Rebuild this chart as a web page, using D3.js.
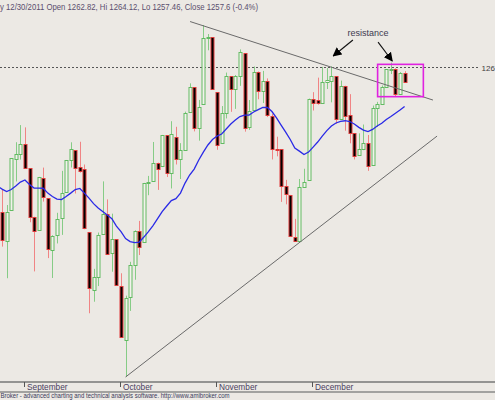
<!DOCTYPE html>
<html><head><meta charset="utf-8">
<script src="https://cdn.jsdelivr.net/npm/d3@7"></script>
<style>html,body{margin:0;padding:0;background:#ece9e4;}svg{display:block;}</style>
</head><body>
<svg id="c" width="495" height="400"></svg>
<script>
// ---- data (S&P 500 daily, Aug 24 – Dec 30 2011) ----
const dates = ["2011-08-24","2011-08-25","2011-08-26","2011-08-29","2011-08-30","2011-08-31",
"2011-09-01","2011-09-02","2011-09-06","2011-09-07","2011-09-08","2011-09-09","2011-09-12","2011-09-13","2011-09-14","2011-09-15","2011-09-16","2011-09-19","2011-09-20","2011-09-21","2011-09-22","2011-09-23","2011-09-26","2011-09-27","2011-09-28","2011-09-29","2011-09-30",
"2011-10-03","2011-10-04","2011-10-05","2011-10-06","2011-10-07","2011-10-10","2011-10-11","2011-10-12","2011-10-13","2011-10-14","2011-10-17","2011-10-18","2011-10-19","2011-10-20","2011-10-21","2011-10-24","2011-10-25","2011-10-26","2011-10-27","2011-10-28","2011-10-31",
"2011-11-01","2011-11-02","2011-11-03","2011-11-04","2011-11-07","2011-11-08","2011-11-09","2011-11-10","2011-11-11","2011-11-14","2011-11-15","2011-11-16","2011-11-17","2011-11-18","2011-11-21","2011-11-22","2011-11-23","2011-11-25","2011-11-28","2011-11-29","2011-11-30",
"2011-12-01","2011-12-02","2011-12-05","2011-12-06","2011-12-07","2011-12-08","2011-12-09","2011-12-12","2011-12-13","2011-12-14","2011-12-15","2011-12-16","2011-12-19","2011-12-20","2011-12-21","2011-12-22","2011-12-23","2011-12-27","2011-12-28","2011-12-29","2011-12-30"];
const openP = [1162.16,1176.69,1158.85,1177.91,1209.76,1213.00,
1219.12,1203.90,1173.97,1165.85,1197.98,1185.37,1153.50,1162.59,1173.32,1189.44,1209.21,1214.99,1204.50,1203.63,1164.55,1128.82,1136.91,1163.32,1175.39,1151.74,1159.93,
1131.21,1097.42,1124.03,1144.11,1165.03,1158.15,1194.60,1196.19,1206.96,1205.65,1224.47,1200.75,1223.46,1209.92,1215.39,1238.72,1254.19,1229.17,1243.97,1284.39,1284.96,
1251.00,1219.62,1238.25,1260.82,1253.21,1261.12,1275.18,1229.59,1240.12,1263.85,1251.70,1257.81,1236.56,1216.19,1215.62,1192.98,1187.48,1161.41,1158.67,1192.56,1196.72,
1246.91,1246.03,1244.33,1257.19,1258.14,1260.87,1234.48,1255.05,1236.83,1225.73,1212.12,1216.09,1219.74,1205.72,1241.25,1243.72,1254.00,1265.02,1265.38,1249.75,1262.82];
const highP = [1178.56,1190.68,1181.23,1210.28,1220.10,1230.71,
1229.29,1203.90,1173.97,1198.62,1204.40,1185.37,1162.52,1176.41,1202.38,1209.11,1220.06,1214.99,1220.39,1206.30,1164.55,1141.72,1164.19,1195.86,1184.71,1175.87,1159.93,
1138.99,1125.12,1146.07,1165.55,1171.40,1194.91,1199.24,1220.25,1207.46,1224.61,1224.47,1233.10,1229.64,1219.53,1239.03,1256.55,1254.19,1246.28,1292.66,1287.08,1284.96,
1251.00,1242.48,1263.21,1260.82,1261.70,1277.55,1275.18,1246.22,1266.98,1263.85,1264.25,1259.61,1237.73,1223.51,1215.62,1196.81,1187.48,1172.66,1197.35,1203.67,1247.11,
1251.09,1260.08,1266.73,1266.03,1267.06,1260.87,1258.25,1255.05,1249.86,1225.73,1225.60,1231.04,1224.57,1242.82,1245.09,1255.22,1265.42,1269.37,1265.85,1263.54,1264.12];
const lowP = [1156.30,1155.47,1135.91,1177.91,1195.77,1209.35,
1203.85,1170.56,1140.13,1165.85,1183.34,1148.37,1136.07,1157.44,1162.73,1189.44,1204.46,1188.36,1201.29,1166.21,1114.22,1121.36,1131.07,1163.32,1150.40,1139.93,1131.34,
1098.92,1074.77,1115.68,1134.95,1150.26,1158.15,1187.30,1196.19,1190.58,1205.65,1198.55,1191.48,1206.31,1197.34,1215.39,1238.72,1226.79,1221.06,1243.97,1277.01,1253.16,
1215.42,1219.62,1234.81,1238.92,1240.75,1254.99,1226.64,1227.70,1240.12,1246.68,1244.34,1235.67,1209.43,1211.36,1183.16,1181.65,1161.79,1158.66,1158.67,1191.80,1196.72,
1239.73,1243.35,1244.33,1253.03,1244.80,1231.47,1234.48,1227.25,1219.43,1209.47,1212.12,1215.20,1202.37,1205.72,1229.51,1243.72,1254.00,1262.30,1248.64,1249.75,1257.46];
const closeP = [1177.60,1159.27,1176.80,1210.08,1212.92,1218.89,
1204.42,1173.97,1165.24,1198.62,1185.90,1154.23,1162.27,1172.87,1188.68,1209.11,1216.01,1204.09,1202.09,1166.76,1129.56,1136.43,1162.95,1175.38,1151.06,1160.40,1131.42,
1099.23,1123.95,1144.03,1164.97,1155.46,1194.89,1195.54,1207.25,1203.66,1224.58,1200.86,1225.38,1209.88,1215.39,1238.25,1254.19,1229.05,1242.00,1284.59,1285.09,1253.30,
1218.28,1237.90,1261.15,1253.23,1261.12,1275.92,1229.10,1239.69,1263.85,1251.78,1257.81,1236.91,1216.13,1215.65,1192.98,1188.04,1161.79,1158.67,1192.55,1195.19,1246.96,
1244.58,1244.28,1257.08,1258.47,1261.01,1234.35,1255.19,1236.47,1225.73,1211.82,1215.75,1219.66,1205.35,1241.30,1243.72,1254.00,1265.33,1265.43,1249.64,1263.02,1257.60];
// moving average (blue)
const maP = [1193.0,1191.1,1189.6,1190.8,1193.0,1195.4,1196.7,1193.9,1191.7,1191.7,1191.6,1188.6,1186.5,1184.9,1184.6,1186.5,1188.6,1190.8,1191.5,1188.6,
1185.5,1182.1,1179.4,1177.2,1175.0,1172.8,1168.2,1164.8,1160.5,1158.6,1157.9,1158.3,1161.4,1164.8,1168.5,1172.8,1177.2,1180.6,1184.0,1185.2,
1188.6,1194.8,1199.8,1203.5,1209.1,1214.0,1218.4,1221.8,1223.9,1225.2,1228.3,1231.4,1233.8,1236.0,1236.9,1236.9,1238.8,1240.3,1241.6,1241.6,
1239.1,1235.1,1230.7,1226.4,1221.8,1216.5,1214.6,1212.5,1214.0,1217.1,1220.2,1223.9,1227.3,1230.1,1232.0,1233.0,1233.4,1232.9,1231.4,1229.3,
1227.6,1226.7,1228.0,1230.1,1231.8,1234.2,1236.0,1238.0,1240.0,1242.2];
const monthLabels = ["September","October","November","December"];
const monthStartIdx = [6,27,48,69];
// annotations (bar index, price)
const trendDown = [[42.1,1294.8],[95.2,1246.2]];
const trendUp = [[28,1074.77],[96.1,1223.9]];
const resistanceLevel = 1266.7;
const resistanceLabel = "126";
const boxCorners = [[83.1,1268.3],[93.1,1248.3]];
const arrows = [[[77.7,1283.4],[73.4,1273.5]],[[83.2,1282.1],[86.3,1270.4]]];
const noteText = "resistance";
const notePos = [81,1285.8];
const headerPrefix = "y 12/30/2011";
const footerText = "Broker - advanced charting and technical analysis software. http://www.amibroker.com";

// ---- drawing ----
const svg = d3.select("#c");
const W = 495, H = 400;
const x = d3.scaleLinear().domain([27, 89]).range([121, 404.6]);
const y = d3.scaleLinear().domain([1074.77, 1292.66]).range([377, 25]);
const font = "'Liberation Sans', Arial, sans-serif";

svg.append("rect").attr("width", W).attr("height", H).attr("fill", "#ece9e4");

const defs = svg.append("defs");
defs.append("marker").attr("id","ah").attr("viewBox","0 0 10 10").attr("refX",9).attr("refY",5)
  .attr("markerWidth",9).attr("markerHeight",9).attr("markerUnits","userSpaceOnUse").attr("orient","auto")
  .append("path").attr("d","M0,0 L10,5 L0,10 z").attr("fill","#000");

// dashed resistance level
svg.append("line").attr("x1",0).attr("x2",479).attr("y1",Math.round(y(resistanceLevel))+0.5).attr("y2",Math.round(y(resistanceLevel))+0.5)
  .attr("stroke","#555").attr("stroke-dasharray","2,2").attr("stroke-width",1);
svg.append("text").attr("x",481.5).attr("y",y(resistanceLevel)+4).attr("font-family",font).attr("font-size",8)
  .attr("fill","#404040").text(resistanceLabel);

// candles
const bars = d3.range(dates.length).map(i => ({i, o:openP[i], h:highP[i], l:lowP[i], c:closeP[i]}));
const g = svg.append("g");
bars.forEach(d => {
  const cx = Math.round(x(d.i));
  const up = d.c >= d.o;
  g.append("line").attr("x1",cx+0.5).attr("x2",cx+0.5).attr("y1",y(d.h)).attr("y2",y(d.l))
    .attr("stroke", up ? "#86cc86" : "#f08484").attr("stroke-width",1);
  const top = Math.round(y(Math.max(d.o,d.c)));
  const bot = Math.round(y(Math.min(d.o,d.c)));
  g.append("rect").attr("x",cx-1).attr("y",top+0.5).attr("width",3).attr("height",Math.max(1,bot-top))
    .attr("fill", up ? "#f3f1ec" : "#000").attr("stroke", up ? "#62bb62" : "#e03a3a").attr("stroke-width",1);
});

// moving average
svg.append("path").datum(maP).attr("fill","none").attr("stroke","#2a2ae6").attr("stroke-width",1.3)
  .attr("d", d3.line().x((v,i)=>x(i)).y(v=>y(v)));

// trendlines
[trendDown, trendUp].forEach(t => {
  svg.append("line").attr("x1",x(t[0][0])).attr("y1",y(t[0][1])).attr("x2",x(t[1][0])).attr("y2",y(t[1][1]))
    .attr("stroke","#6a6a6a").attr("stroke-width",1);
});

// magenta box
svg.append("rect").attr("x",x(boxCorners[0][0])).attr("y",y(boxCorners[0][1]))
  .attr("width",x(boxCorners[1][0])-x(boxCorners[0][0])).attr("height",y(boxCorners[1][1])-y(boxCorners[0][1]))
  .attr("fill","none").attr("stroke","#e022e0").attr("stroke-width",1.6);

// arrows
arrows.forEach(a => {
  svg.append("line").attr("x1",x(a[0][0])).attr("y1",y(a[0][1])).attr("x2",x(a[1][0])).attr("y2",y(a[1][1]))
    .attr("stroke","#111").attr("stroke-width",1.1).attr("marker-end","url(#ah)");
});
svg.append("text").attr("x",x(notePos[0])).attr("y",y(notePos[1])).attr("text-anchor","middle")
  .attr("font-family",font).attr("font-size",9).attr("fill","#403a50").text(noteText);

// header
const last = dates.length-1;
const chg = ((closeP[last]-closeP[last-1])/closeP[last-1]*100).toFixed(1);
svg.append("text").attr("x",0).attr("y",9.5).attr("font-family",font).attr("font-size",8.6).attr("fill","#5a4e6e")
  .attr("textLength",258).attr("lengthAdjust","spacingAndGlyphs")
  .text(`${headerPrefix} Open ${openP[last]}, Hi ${highP[last]}, Lo ${lowP[last]}, Close ${+closeP[last].toFixed(2)} (${chg}%)`);

// x axis
svg.append("line").attr("x1",0).attr("x2",W).attr("y1",382).attr("y2",382).attr("stroke","#777").attr("stroke-width",1.6);
svg.append("line").attr("x1",0).attr("x2",W).attr("y1",392).attr("y2",392).attr("stroke","#8a8a8a").attr("stroke-width",1.6);
monthStartIdx.forEach((mi,k) => {
  const tx = Math.round(x(mi)) - 0.5;
  svg.append("line").attr("x1",tx).attr("x2",tx).attr("y1",382).attr("y2",387).attr("stroke","#555").attr("stroke-width",1);
  svg.append("text").attr("x",tx+2.5).attr("y",389.5).attr("font-family",font).attr("font-size",8.3)
    .attr("fill","#4a3e60").text(monthLabels[k]);
});
svg.append("text").attr("x",0.5).attr("y",397.5).attr("font-family",font).attr("font-size",6.6)
  .attr("fill","#3a3a5a").attr("textLength",229).attr("lengthAdjust","spacingAndGlyphs").text(footerText);
</script>
</body></html>
